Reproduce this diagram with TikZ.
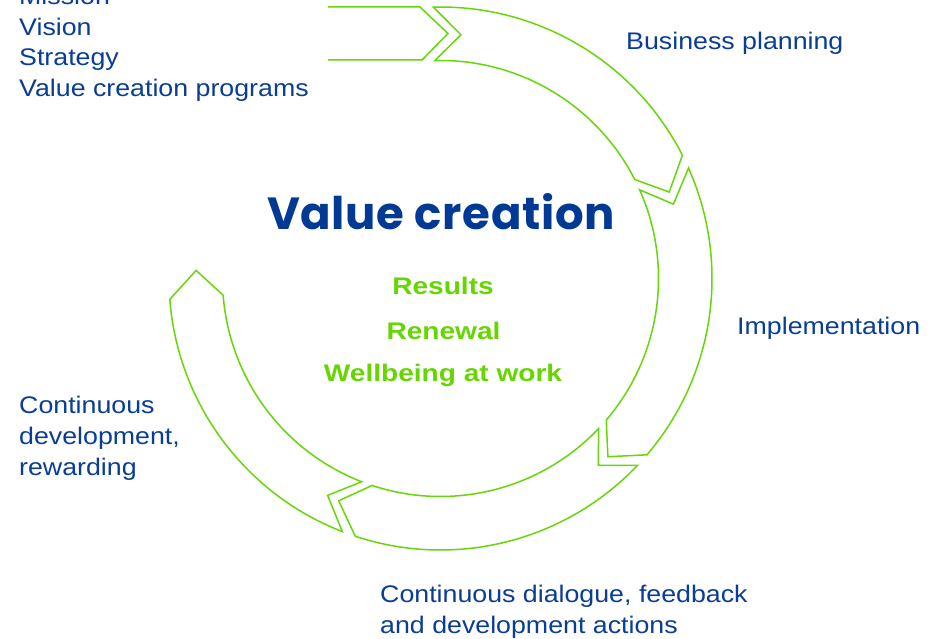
\documentclass[tikz,border=0pt]{standalone}
\usepackage{fontspec}
\setmainfont{Liberation Sans}
\newfontfamily\bluefont[FakeStretch=1.115]{Liberation Sans}
\newfontfamily\greenfont[FakeStretch=1.17]{Liberation Sans}
\newfontfamily\titlefont[LetterSpace=1.5]{Poppins}
\definecolor{cyclegreen}{RGB}{104,214,10}
\definecolor{textgreen}{RGB}{102,214,0}
\definecolor{textblue}{RGB}{10,62,150}
\definecolor{titleblue}{RGB}{0,58,148}
\newcommand\Ro{271.5pt}
\newcommand\Rm{244.5pt}
\newcommand\Ri{218pt}
% #1 start angle, #2 end angle (clockwise)
\newcommand\cyclearrow[2]{%
  \draw[arrowline] (#1:\Ro) arc[start angle=#1, end angle=#2, radius=\Ro]
    -- ({#2-6.3}:\Rm) -- (#2:\Ri)
    arc[start angle=#2, end angle=#1, radius=\Ri]
    -- ({#1-6.3}:\Rm) -- cycle;}
\begin{document}
\begin{tikzpicture}[x=1pt,y=1pt,
  arrowline/.style={draw=cyclegreen, line width=1.5pt, line join=miter},
  bluetext/.style={anchor=base west, inner sep=0pt, text=textblue,
    font=\bluefont\fontsize{24}{24}\selectfont},
  greentext/.style={anchor=base, inner sep=0pt, text=textgreen,
    font=\greenfont\bfseries\fontsize{24}{24}\selectfont},
  titletext/.style={anchor=base, inner sep=0pt, text=titleblue,
    font=\titlefont\bfseries\fontsize{45}{45}\selectfont}]
\useasboundingbox[fill=white] (0,0) rectangle (939,638);

% incoming bar
\coordinate (t1) at (328,631);
\coordinate (t2) at (420,631);
\coordinate (t3) at (448,604.5);
\coordinate (t4) at (422,578);
\coordinate (t5) at (328,578);
\draw[arrowline] (t1) -- (t2) -- (t3) -- (t4) -- (t5);

% cycle arrows
\begin{scope}[shift={(440.5,359.5)}]
  \cyclearrow{91.5}{27}
  \cyclearrow{24}{-40.5}
  \cyclearrow{-43.5}{-108.3}
  \cyclearrow{-111.2}{-175.6}
\end{scope}

% left texts
\node[bluetext] (mission) at (19,633.5) {Mission};
\node[bluetext] (vision) at (19,602.5) {Vision};
\node[bluetext] (strategy) at (19,572) {Strategy};
\node[bluetext] (programs) at (19,541) {Value creation programs};

\node[bluetext] (business) at (626,588) {Business planning};
\node[bluetext] (implement) at (737,304) {Implementation};

\node[bluetext] (cont1) at (19,225) {Continuous};
\node[bluetext] (cont2) at (19,194) {development,};
\node[bluetext] (cont3) at (19,163) {rewarding};

\node[bluetext] (dial1) at (380,36) {Continuous dialogue, feedback};
\node[bluetext] (dial2) at (380,5) {and development actions};

% centre
\node[titletext] (title) at (441,408) {Value creation};
\node[greentext] (results) at (443,343) {Results};
\node[greentext] (renewal) at (443.5,299) {Renewal};
\node[greentext] (wellbeing) at (443,257) {Wellbeing at work};
\end{tikzpicture}
\end{document}
